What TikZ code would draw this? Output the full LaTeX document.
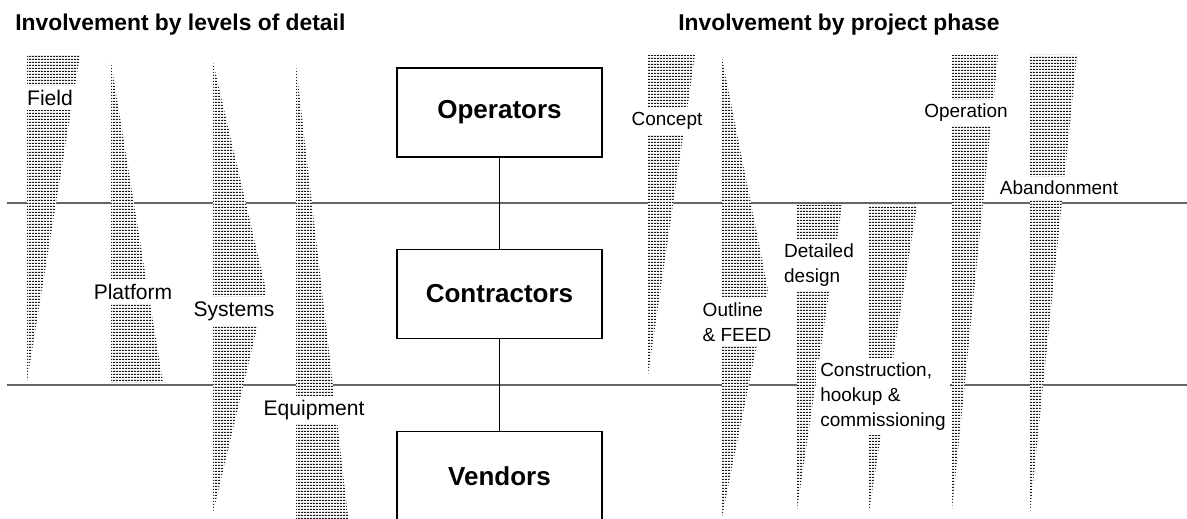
\documentclass[tikz,border=0pt]{standalone}
\usepackage{fontspec}
\setmainfont{Liberation Sans}
\usetikzlibrary{patterns}
% fine rows of short dashes, as in the shaded wedges
\pgfdeclarepatternformonly{rowdots}{\pgfpointorigin}{\pgfpoint{1.7pt}{1.45pt}}{\pgfpoint{1.7pt}{1.45pt}}{%
\pgfpathrectangle{\pgfpointorigin}{\pgfpoint{1.2pt}{0.72pt}}\pgfusepath{fill}}
\tikzset{
wedge/.style={preaction={fill=white},pattern=rowdots,pattern color=black!90},
lvl/.style={fill=white,inner sep=2.5pt,font=\fontsize{10.8}{14.2}\selectfont,align=left},
lvlbig/.style={lvl,font=\fontsize{12}{14.4}\selectfont},
party/.style={draw,line width=1.1pt,fill=white,minimum width=4.1cm,minimum height=1.78cm,font=\bfseries\fontsize{14.8}{17}\selectfont},
heading/.style={font=\bfseries\fontsize{13}{15}\selectfont,inner sep=0pt,anchor=base west},
band/.style={black!60,line width=0.8pt}
}
\begin{document}
\begin{tikzpicture}[x=0.02cm,y=-0.02cm]
\useasboundingbox (0,0) rectangle (1187,519);
\node[heading] (lhead) at (15,31) {Involvement by levels of detail};
\node[heading] (rhead) at (678,31) {Involvement by project phase};
% band borders
\draw[band] (7,203) -- (1187,203);
\draw[band] (7,385) -- (1187,385);
% narrowing wedges: left x / top y / top right x / bottom y
\foreach \xl/\yt/\xr/\yb in {27/55/80/382,648/55/695/375,797/205/842/510,869/205/917/512,952/55/998/510,1030/55/1077/513}{
\fill[wedge] (\xl,\yt) -- (\xr,\yt) -- (\xl,\yb) -- cycle;
}
\fill[wedge] (111,62) -- (111,383) -- (163,383) -- cycle;
\fill[wedge] (213,62) -- (266,290) -- (213,513) -- cycle;
\fill[wedge] (296,65) -- (296,525) -- (349,525) -- cycle;
\fill[wedge] (722,58) -- (768,290) -- (722,517) -- cycle;
% wedge labels
\node[lvlbig] (field) at (50,98) {Field};
\node[lvlbig] (platform) at (133,292) {Platform};
\node[lvlbig] (systems) at (234,311) {Systems};
\node[lvlbig] (equip) at (314,410) {Equipment};
\node[lvl] (concept) at (667,121) {Concept};
\node[lvl] (outline) at (737,322) {Outline\\\& FEED};
\node[lvl] (detail) at (819,265) {Detailed\\design};
\node[lvl] (constr) at (883,397) {Construction,\\hookup \&\\commissioning};
\node[lvl] (operation) at (966,113) {Operation};
\node[lvl] (abandon) at (1059,188) {Abandonment};
% parties
\node[party] (op) at (499.5,112.5) {Operators};
\node[party] (con) at (499.5,294) {Contractors};
\node[party] (ven) at (499.5,476) {Vendors};
\draw[line width=0.6pt] (op) -- (con);
\draw[line width=0.6pt] (con) -- (ven);
\end{tikzpicture}
\end{document}
